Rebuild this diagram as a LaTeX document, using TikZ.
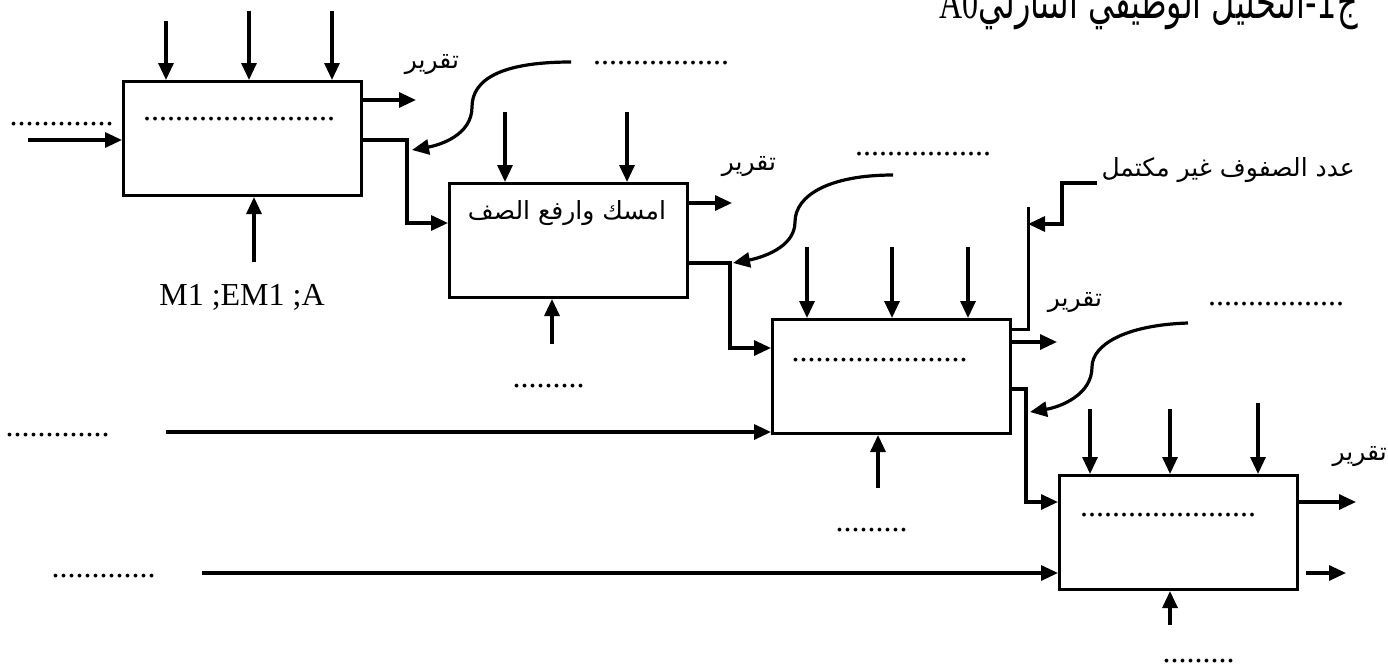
\documentclass[tikz,border=0pt]{standalone}
\usepackage{fontspec}
\setmainfont{Liberation Serif}
\newfontfamily\arabicfont[Script=Arabic]{DejaVu Sans}
\TeXXeTstate=1
\usetikzlibrary{arrows.meta}

\newcommand{\artxt}[1]{{\arabicfont\beginR #1\endR}}

\begin{document}
\begin{tikzpicture}[x=1pt,y=-1pt,
  fn/.style={draw,line width=3pt,minimum width=238pt,minimum height=114pt,inner sep=0pt,anchor=north west},
  flow/.style={line width=3.2pt,-{Triangle[length=17pt,width=15pt]}},
  link/.style={line width=3pt},
  lbl/.style={inner sep=0pt,font=\fontsize{25}{30}\selectfont},
  dots/.style={inner sep=0pt,anchor=base,font=\fontsize{32}{36}\selectfont}]
\useasboundingbox (0,0) rectangle (1388,667);

% title, cut by the top edge
\node[anchor=base east,inner sep=0pt,font=\fontsize{32}{38}\selectfont] (title) at (1358,18)
  {\scalebox{1}[1.45]{\artxt{ج1-التحليل الوظيفي التنازلي\beginL{\rmfamily A0}\endL}}};

% boxes
\node[fn] (b1) at (122,80) {};
\node[fn] (b2) at (448,182) {};
\node[fn] (b3) at (771,318) {};
\node[fn] (b4) at (1058,474) {};

\node[dots] (t1) at (239,120) {........................};
\node[lbl] (t2) at (567,213) {\artxt{امسك وارفع الصف}};
\node[dots] (t3) at (879.5,361) {......................};
\node[dots] (t4) at (1168,516) {......................};

% controls from above
\foreach \x/\y [count=\i] in {166/21,249/11,332/11}
  \draw[flow] (\x,\y) coordinate (c1\i) -- (c1\i |- b1.north);
\foreach \x/\y [count=\i] in {505/112,627/112}
  \draw[flow] (\x,\y) coordinate (c2\i) -- (c2\i |- b2.north);
\foreach \x/\y [count=\i] in {807/247,892/247,968/247}
  \draw[flow] (\x,\y) coordinate (c3\i) -- (c3\i |- b3.north);
\foreach \x/\y [count=\i] in {1090/409,1170/409,1258/403}
  \draw[flow] (\x,\y) coordinate (c4\i) -- (c4\i |- b4.north);

% mechanisms from below
\coordinate (m1) at (254,262);
\coordinate (m2) at (552,344);
\coordinate (m3) at (878,488);
\coordinate (m4) at (1170,625);
\draw[flow] (m1) -- (m1 |- b1.south);
\draw[flow] (m2) -- (m2 |- b2.south);
\draw[flow] (m3) -- (m3 |- b3.south);
\draw[flow] (m4) -- (m4 |- b4.south);
\node[anchor=base,inner sep=0pt,font=\fontsize{32}{36}\selectfont] (mlbl) at (242,305) {M1 ;EM1 ;A};
\node[dots] (d2) at (548.5,387) {.........};
\node[dots] (d3) at (871.5,531) {.........};
\node[dots] (d4) at (1198.5,662) {.........};

% inputs from the left
\coordinate (in1) at (28,140);
\coordinate (in3) at (166,432);
\coordinate (in4) at (202,573);
\draw[flow] (in1) -- (in1 -| b1.west);
\draw[flow] (in3) -- (in3 -| b3.west);
\draw[flow] (in4) -- (in4 -| b4.west);
\node[dots] (d0) at (61.5,125) {.............};
\node[dots] (d5) at (57.5,436) {.............};
\node[dots] (d6) at (103.5,577) {.............};

% reports
\coordinate (r1) at (416,100);
\coordinate (r2) at (732,203);
\coordinate (r3) at (1057,342);
\coordinate (r4) at (1356,502);
\draw[flow] (r1 -| b1.east) -- (r1);
\draw[flow] (r2 -| b2.east) -- (r2);
\draw[flow] (r3 -| b3.east) -- (r3);
\draw[flow] (r4 -| b4.east) -- (r4);
\coordinate (r5) at (1306,573);
\draw[flow] (r5) -- (1346,573) coordinate (r6);
\node[lbl] (rl1) at (432,65) {\artxt{تقرير}};
\node[lbl] (rl2) at (749,167) {\artxt{تقرير}};
\node[lbl] (rl3) at (1075,303) {\artxt{تقرير}};
\node[lbl,anchor=east] (rl4) at (1387,457) {\artxt{تقرير}};

% outputs passed to the next box
\coordinate (j1) at (407,140);
\coordinate (k1) at (407,223);
\coordinate (j2) at (730,263);
\coordinate (k2) at (730,348);
\coordinate (j3) at (1026,389);
\coordinate (k3) at (1026,502);
\draw[flow] (j1 -| b1.east) -- (j1) -- (k1) -- (k1 -| b2.west);
\draw[flow] (j2 -| b2.east) -- (j2) -- (k2) -- (k2 -| b3.west);
\draw[flow] (j3 -| b3.east) -- (j3) -- (k3) -- (k3 -| b4.west);

% loop back of box 3
\coordinate (f1) at (1028,329);
\coordinate (f2) at (1028,207);
\draw[link] (f1 -| b3.east) -- (f1) -- (f2);
\node[lbl,anchor=east] (nl) at (1355,170) {\artxt{عدد الصفوف غير مكتمل}};
\coordinate (n1) at (1097,183);
\draw[flow] (n1) -- (1062,183) -- (1062,224) -- (1062,224 -| f1);

% curved feedback arrows
\coordinate (s1) at (571,62);
\coordinate (s2) at (893,175);
\coordinate (s3) at (1188,323);
\draw[flow] (s1) .. controls (500,62) and (472,80) .. (472,107)
  .. controls (472,135) and (440,145) .. (412,150);
\draw[flow] (s2) .. controls (830,175) and (795,195) .. (795,222)
  .. controls (795,248) and (760,258) .. (733,263);
\draw[flow] (s3) .. controls (1125,325) and (1092,345) .. (1092,367)
  .. controls (1092,395) and (1060,407) .. (1030,412);
\node[dots] (d7) at (661,64) {.................};
\node[dots] (d8) at (923,155) {.................};
\node[dots] (d9) at (1276,305) {.................};
\end{tikzpicture}
\end{document}
